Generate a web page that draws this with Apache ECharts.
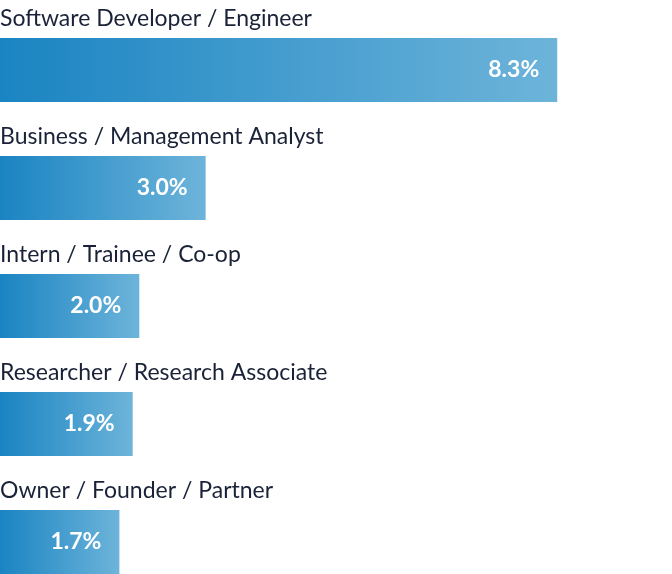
<!DOCTYPE html>
<html>
<head>
<meta charset="utf-8">
<script src="https://cdn.jsdelivr.net/npm/echarts@6/dist/echarts.min.js"></script>
<style>
html,body{margin:0;padding:0;background:#fff;}
#chart{width:672px;height:574px;}
</style>
</head>
<body>
<div id="chart"></div>
<script>
const categories = [
  'Software Developer / Engineer',
  'Business / Management Analyst',
  'Intern / Trainee / Co-op',
  'Researcher / Research Associate',
  'Owner / Founder / Partner'
];
const values = [8.3, 3.0, 2.0, 1.9, 1.7];

const chart = echarts.init(document.getElementById('chart'));
const grad = new echarts.graphic.LinearGradient(0, 0, 1, 0, [
  { offset: 0, color: '#1a84c2' },
  { offset: 1, color: '#6db4da' }
]);
chart.setOption({
  animation: false,
  grid: { left: 0, top: 11, height: 590, width: 670, outerBoundsMode: 'none', containLabel: false },
  xAxis: {
    type: 'value', min: -0.1, max: 10.0, startValue: -0.1,
    show: false
  },
  yAxis: {
    type: 'category', data: categories, inverse: true,
    axisLine: { show: false }, axisTick: { show: false }, splitLine: { show: false },
    axisLabel: {
      inside: true, margin: 0, align: 'left', verticalAlign: 'bottom',
      padding: [0, 0, 40, 0],
      color: '#1a2238', fontFamily: 'Lato', fontSize: 23, lineHeight: 23
    }
  },
  series: [{
    type: 'bar',
    data: values,
    barWidth: 64,
    itemStyle: { color: grad },
    label: {
      show: true, position: 'insideRight', distance: 18,
      formatter: p => p.value.toFixed(1) + '%',
      color: '#ffffff', fontFamily: 'Lato', fontSize: 23, fontWeight: 'bold'
    }
  }]
});
</script>
</body>
</html>
